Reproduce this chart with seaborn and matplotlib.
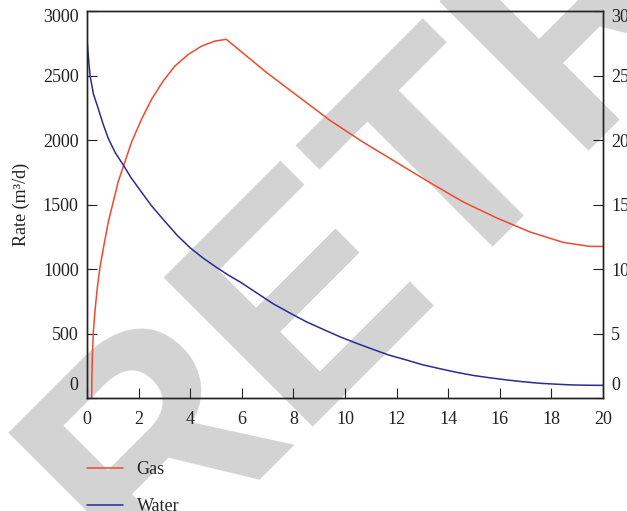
import pandas as pd
import seaborn as sns
import matplotlib.pyplot as plt
from matplotlib.lines import Line2D
from matplotlib.transforms import ScaledTranslation

# values
gas_t = [0.18, 0.19, 0.21, 0.25, 0.31, 0.40, 0.50, 0.66, 0.83, 1.02, 1.21,
         1.47, 1.73, 2.12, 2.51, 2.96, 3.41, 3.93, 4.44, 4.96, 5.4,
         6.96, 8.2, 9.42, 10.71, 12.0, 13.29, 14.59, 15.88, 17.17, 18.46,
         19.5, 20.0]
gas_rate = [0, 170, 343, 523, 677, 856, 1010, 1190, 1369, 1523, 1677,
            1831, 1985, 2164, 2318, 2459, 2574, 2664, 2728, 2767, 2780,
            2523, 2336, 2152, 1982, 1826, 1670, 1519, 1396, 1287, 1206,
            1175, 1175]

water_t = [0, 0.05, 0.12, 0.25, 0.44, 0.63, 0.83, 1.1, 1.41, 1.7, 2.05, 2.5,
           3.02, 3.5, 4.0, 4.5, 5.0, 5.5, 5.93, 6.5, 7.22, 7.9, 8.51, 9.2,
           9.81, 10.5, 11.1, 11.7, 12.39, 13.0, 13.68, 14.3, 14.97, 15.6,
           16.27, 16.9, 17.56, 18.2, 18.85, 19.4, 20.0]
water_rate = [2780, 2650, 2497, 2356, 2241, 2120, 2010, 1900, 1805, 1710, 1613,
              1490, 1369, 1260, 1164, 1085, 1015, 950, 900, 825, 730, 655,
              590, 528, 474, 420, 376, 333, 294, 258, 227, 200, 175, 157,
              140, 126, 114, 107, 101, 99, 98]

x_ticks = [0, 2, 4, 6, 8, 10, 12, 14, 16, 18, 20]
left_ticks = [0, 500, 1000, 1500, 2000, 2500, 3000]
right_ticks = [0, 5, 10, 15, 20, 25, 30]

GAS_COLOR = "#ef4a2c"
WATER_COLOR = "#2b2b96"
FS = 13

sns.set_theme(style="ticks")
plt.rcParams["font.family"] = ["Liberation Serif", "DejaVu Serif"]

fig = plt.figure(figsize=(6.27, 5.11), dpi=100)
fig.patch.set_facecolor("white")
ax = fig.add_axes([87 / 627, 1 - 398 / 511, 516 / 627, 387 / 511])
ax.patch.set_alpha(0)

# watermark behind the plot
fig.text(138 / 627, 1 - 582 / 511, "RETRACTED", rotation=45,
         rotation_mode="anchor", ha="left", va="baseline",
         fontsize=220, fontweight="bold", family="Liberation Sans",
         color="#d3d3d3", zorder=-1)

gas_df = pd.DataFrame({"t": gas_t, "rate": gas_rate})
water_df = pd.DataFrame({"t": water_t, "rate": water_rate})
sns.lineplot(data=gas_df, x="t", y="rate", ax=ax, color=GAS_COLOR,
             lw=1.1, sort=False, estimator=None)
sns.lineplot(data=water_df, x="t", y="rate", ax=ax, color=WATER_COLOR,
             lw=1.1, sort=False, estimator=None)

ax.set_xlim(0, 20)
ax.set_ylim(0, 3000)
ax.set_xticks(x_ticks)
ax.set_yticks(left_ticks)
ax.set_xlabel("")
ax.set_ylabel("Rate (m³/d)", fontsize=FS, labelpad=9, color="#222222")
ax.tick_params(direction="in", length=7, width=0.8, pad=6,
               labelsize=FS, colors="#222222")
ax.tick_params(axis="x", top=False, pad=9.5)
ax.tick_params(axis="y", right=False)

ax2 = ax.twinx()
ax2.set_ylim(0, 30)
ax2.set_yticks(right_ticks)
ax2.tick_params(direction="in", length=7, width=0.8, pad=6,
                labelsize=FS, colors="#222222")

for a in (ax, ax2):
    for sp in a.spines.values():
        sp.set_visible(True)
        sp.set_linewidth(1.0)
        sp.set_color("#222222")

# end labels sit a bit inside the axis range in the reference
for a in (ax, ax2):
    labels = a.get_yticklabels()
    labels[0].set_transform(labels[0].get_transform()
                            + ScaledTranslation(0, 15 / 100, fig.dpi_scale_trans))
    labels[-1].set_transform(labels[-1].get_transform()
                             + ScaledTranslation(0, -4 / 100, fig.dpi_scale_trans))

handles = [Line2D([], [], color=GAS_COLOR, lw=1.1),
           Line2D([], [], color=WATER_COLOR, lw=1.1)]
fig.legend(handles, ["Gas", "Water"], loc="upper left",
           bbox_to_anchor=(87 / 627, 1 - 461 / 511), frameon=False,
           borderpad=0, borderaxespad=0, handlelength=2.0,
           handletextpad=0.75, labelspacing=1.1, fontsize=FS)

fig.savefig("out.png", dpi=100)
